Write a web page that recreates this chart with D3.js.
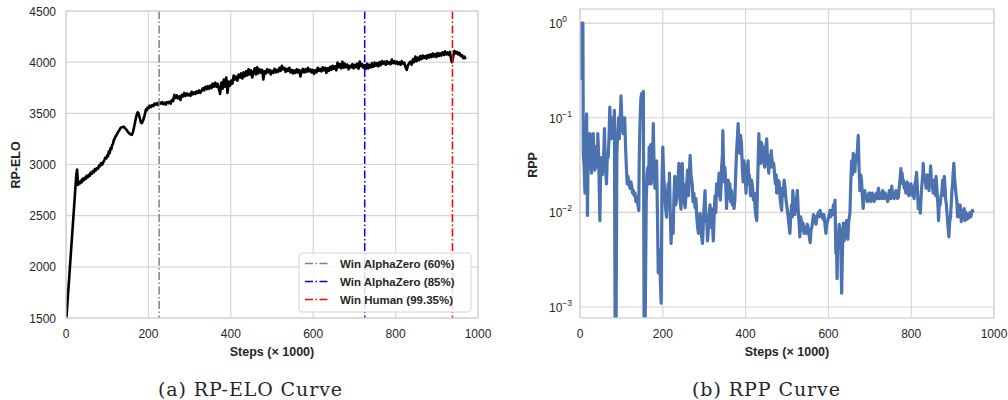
<!DOCTYPE html>
<html>
<head>
<meta charset="utf-8">
<script src="https://cdn.jsdelivr.net/npm/d3@7"></script>
<style>
  body { margin: 0; background: #fff; }
  svg text { fill: #262626; }
</style>
</head>
<body>
<svg id="chart" width="1008" height="400"></svg>
<script>
// ---- data ----
// RP-ELO curve: [step (x1000), elo]
const eloPoints = [
  [1,1500],[25,2900],[27,2950],[29,2800],[32,2830],[34,2815],[36,2840],[38,2825],[40,2860],[43,2845],
  [45,2870],[48,2860],[50,2890],[53,2875],[55,2900],[58,2890],[60,2920],[63,2910],[65,2935],[68,2925],
  [70,2955],[73,2945],[75,2965],[78,2960],[80,2990],[83,2985],[85,3015],[88,3000],[90,3020],[93,3040],
  [95,3065],[98,3060],[100,3090],[102,3080],[104,3130],[106,3110],[108,3160],[110,3150],[112,3190],[114,3200],
  [116,3240],[118,3250],[120,3275],[122,3280],[124,3300],[126,3315],[128,3325],[130,3340],[133,3360],[136,3365],
  [140,3370],[143,3355],[146,3345],[150,3320],[153,3305],[156,3295],[160,3290],[162,3310],[164,3340],[166,3380],
  [168,3420],[170,3460],[172,3490],[174,3510],[176,3500],[178,3470],[180,3440],[182,3410],[184,3405],[186,3420],
  [188,3440],[190,3470],[192,3500],[194,3540],[196,3530],[198,3555],[200,3550],[203,3575],[206,3560],[209,3580],
  [212,3570],[215,3595],[218,3585],[221,3600],[224,3580],[227,3605],[230,3595],[233,3610],[236,3590],[239,3605],
  [242,3585],[245,3610],[248,3600],[251,3615],[254,3595],[257,3630],[260,3620],[263,3680],[266,3650],[269,3675],
  [272,3645],[275,3665],[278,3630],[281,3680],[284,3665],[287,3700],[290,3670],[293,3695],[296,3675],[299,3690],
  [302,3670],[305,3710],[308,3685],[311,3705],[314,3690],[317,3715],[320,3700],[323,3725],[326,3700],[329,3720],
  [332,3745],[335,3725],[338,3760],[341,3735],[344,3765],[347,3740],[350,3770],[353,3745],[356,3790],[359,3760],
  [362,3800],[365,3760],[368,3790],[371,3740],[374,3690],[377,3800],[380,3740],[383,3830],[386,3760],[389,3850],
  [392,3700],[395,3810],[398,3770],[401,3820],[404,3790],[407,3870],[410,3830],[413,3860],[416,3820],[419,3880],
  [422,3850],[425,3890],[428,3840],[431,3900],[434,3860],[437,3910],[440,3870],[443,3930],[446,3880],[449,3920],
  [452,3850],[455,3900],[458,3940],[461,3880],[464,3950],[467,3890],[470,3930],[473,3900],[476,3925],[479,3830],
  [482,3910],[485,3890],[488,3930],[491,3900],[494,3925],[497,3880],[500,3915],[503,3895],[506,3935],[509,3900],
  [512,3925],[515,3905],[518,3945],[521,3915],[524,3965],[527,3930],[530,3945],[533,3905],[536,3935],[539,3915],
  [542,3945],[545,3900],[548,3925],[551,3890],[554,3920],[557,3895],[560,3930],[563,3900],[566,3925],[569,3860],
  [572,3910],[575,3935],[578,3900],[581,3930],[584,3905],[587,3945],[590,3910],[593,3930],[596,3900],[599,3925],
  [602,3885],[605,3920],[608,3900],[611,3945],[614,3915],[617,3935],[620,3910],[623,3950],[626,3920],[629,3945],
  [632,3895],[635,3940],[638,3915],[641,3955],[644,3925],[647,3965],[650,3935],[653,3960],[656,3920],[659,3995],
  [662,3950],[665,3980],[668,3940],[671,4005],[674,3945],[677,3985],[680,3950],[683,3975],[686,3930],[689,3965],
  [692,3950],[695,3980],[698,3940],[701,3975],[704,3950],[707,3985],[710,3935],[713,4005],[716,3960],[719,3980],
  [722,3945],[725,3970],[728,3935],[731,3985],[734,3940],[737,3975],[740,3950],[743,3990],[746,3955],[749,3995],
  [752,3965],[755,3990],[758,3960],[761,4000],[764,3970],[767,4010],[770,3985],[773,4005],[776,3975],[779,4010],
  [782,3985],[785,4000],[788,3980],[791,4025],[794,3990],[797,4010],[800,3985],[803,4005],[806,3980],[809,4000],
  [812,3975],[815,4010],[818,3985],[821,3995],[824,3950],[827,3925],[830,3970],[833,3990],[836,4005],[839,3975],
  [842,4030],[845,4000],[848,4055],[851,4010],[854,4045],[857,4020],[860,4060],[863,4030],[866,4065],[869,4040],
  [872,4060],[875,4035],[878,4070],[881,4045],[884,4075],[887,4050],[890,4085],[893,4055],[896,4080],[899,4050],
  [902,4090],[905,4060],[908,4085],[911,4065],[914,4095],[917,4070],[920,4105],[923,4075],[926,4095],[929,4070],
  [932,4100],[935,4020],[937,4000],[940,4060],[943,4110],[946,4085],[949,4100],[952,4075],[955,4090],[958,4060],
  [961,4070],[964,4040],[967,4055],[970,4030]
];

// milestone lines
const milestones = [
  { step: 226, label: "Win AlphaZero (60%)", color: "#808080" },
  { step: 725, label: "Win AlphaZero (85%)", color: "#0000ff" },
  { step: 938, label: "Win Human (99.35%)", color: "#ff0000" }
];

// RPP curve: [step (x1000), rpp]
const rppPoints = [
  [2,0.25],[3,1.0],[5,0.8],[7,1.0],[8,0.042],[10,0.03],[12,0.016],[14,0.05],[16,0.11],[17,0.04],
  [18,0.0093],[20,0.05],[21,0.03],[23,0.06],[24,0.068],[26,0.035],[28,0.026],[30,0.05],[32,0.068],[34,0.03],
  [36,0.028],[38,0.045],[40,0.05],[42,0.03],[43,0.068],[45,0.04],[48,0.0082],[50,0.03],[52,0.038],[54,0.025],
  [56,0.03],[58,0.05],[59,0.077],[61,0.035],[64,0.02],[66,0.04],[68,0.038],[70,0.06],[72,0.13],[74,0.07],
  [76,0.06],[78,0.1],[80,0.09],[82,0.06],[83,0.12],[85,0.0004],[87,0.0004],[89,0.04],[91,0.07],[93,0.1],
  [95,0.06],[96,0.08],[98,0.12],[99,0.17],[101,0.1],[104,0.068],[106,0.09],[108,0.1],[110,0.05],[112,0.03],
  [114,0.02],[116,0.024],[118,0.02],[121,0.018],[123,0.021],[125,0.019],[127,0.016],[129,0.017],[131,0.015],[133,0.016],
  [135,0.013],[137,0.0145],[140,0.012],[142,0.0105],[143,0.035],[145,0.09],[147,0.16],[149,0.18],[151,0.12],[153,0.19],
  [155,0.0004],[157,0.0004],[160,0.0135],[162,0.025],[164,0.03],[166,0.02],[167,0.049],[169,0.03],[171,0.052],[172,0.02],
  [174,0.03],[176,0.05],[177,0.087],[179,0.03],[181,0.018],[183,0.03],[185,0.035],[187,0.01],[189,0.0023],[192,0.004],
  [194,0.002],[196,0.0011],[198,0.02],[200,0.049],[202,0.025],[204,0.018],[206,0.012],[209,0.0089],[211,0.015],[213,0.02],
  [215,0.012],[216,0.026],[218,0.01],[220,0.0047],[222,0.009],[225,0.006],[227,0.015],[229,0.024],[231,0.012],[233,0.0135],
  [236,0.02],[239,0.033],[241,0.015],[244,0.0108],[246,0.02],[247,0.033],[249,0.015],[250,0.02],[252,0.013],[254,0.0112],
  [257,0.018],[260,0.028],[262,0.015],[264,0.025],[266,0.04],[268,0.025],[271,0.02],[273,0.013],[275,0.016],[278,0.0112],
  [280,0.014],[282,0.009],[284,0.007],[286,0.006],[288,0.008],[290,0.0098],[293,0.006],[296,0.0047],[299,0.01],[302,0.017],
  [304,0.008],[306,0.009],[308,0.005],[310,0.0065],[312,0.01],[314,0.012],[316,0.007],[318,0.011],[320,0.0075],[322,0.005],
  [324,0.009],[326,0.015],[328,0.01],[330,0.02],[333,0.015],[336,0.026],[338,0.018],[339,0.0135],[341,0.02],[342,0.03],
  [344,0.04],[345,0.073],[347,0.03],[348,0.021],[350,0.03],[351,0.025],[353,0.015],[354,0.011],[356,0.018],[358,0.022],
  [360,0.014],[362,0.02],[364,0.013],[366,0.017],[368,0.012],[370,0.015],[372,0.011],[374,0.0135],[376,0.025],[378,0.042],
  [380,0.06],[382,0.087],[384,0.05],[386,0.042],[388,0.065],[390,0.054],[392,0.03],[394,0.021],[396,0.035],[398,0.03],
  [400,0.02],[401,0.016],[403,0.025],[406,0.035],[408,0.02],[409,0.025],[411,0.018],[412,0.015],[414,0.022],[416,0.02],
  [418,0.015],[419,0.0135],[421,0.016],[423,0.011],[425,0.009],[427,0.0082],[429,0.02],[432,0.068],[434,0.04],[436,0.033],
  [438,0.055],[441,0.049],[443,0.035],[446,0.03],[448,0.045],[451,0.06],[453,0.035],[456,0.026],[458,0.04],[460,0.03],
  [462,0.045],[463,0.038],[466,0.03],[468,0.033],[470,0.025],[472,0.02],[474,0.025],[475,0.016],[478,0.022],[481,0.021],
  [484,0.013],[487,0.0105],[489,0.018],[491,0.015],[493,0.022],[495,0.019],[498,0.013],[501,0.0105],[504,0.008],[507,0.006],
  [509,0.009],[511,0.012],[513,0.009],[514,0.017],[517,0.011],[519,0.0095],[522,0.013],[525,0.017],[527,0.011],[528,0.009],
  [530,0.007],[531,0.0055],[533,0.009],[535,0.008],[537,0.0065],[539,0.0077],[541,0.006],[543,0.007],[545,0.0065],[547,0.006],
  [549,0.0075],[552,0.0065],[554,0.0055],[556,0.0048],[558,0.0065],[560,0.007],[562,0.008],[564,0.0095],[566,0.0085],[568,0.009],
  [570,0.0075],[572,0.0088],[574,0.0095],[576,0.01],[578,0.009],[580,0.0105],[582,0.009],[585,0.0095],[587,0.0085],[589,0.0095],
  [591,0.008],[594,0.006],[596,0.0075],[598,0.008],[600,0.0088],[602,0.0095],[604,0.0105],[606,0.009],[608,0.0105],[610,0.0095],
  [612,0.012],[614,0.011],[616,0.0135],[618,0.0037],[619,0.006],[621,0.002],[622,0.004],[624,0.005],[626,0.0075],[628,0.0065],
  [630,0.004],[632,0.0014],[634,0.004],[636,0.0077],[638,0.005],[640,0.0058],[642,0.0075],[644,0.0082],[646,0.006],[647,0.0052],
  [649,0.008],[652,0.0098],[654,0.02],[656,0.035],[658,0.025],[660,0.042],[662,0.03],[664,0.027],[666,0.04],[668,0.035],
  [670,0.045],[672,0.065],[674,0.03],[676,0.017],[678,0.025],[680,0.022],[682,0.015],[684,0.011],[686,0.015],[688,0.017],
  [690,0.014],[692,0.015],[694,0.013],[696,0.0145],[698,0.016],[700,0.016],[702,0.013],[704,0.014],[706,0.016],[708,0.015],
  [710,0.013],[712,0.0135],[714,0.015],[716,0.016],[718,0.014],[721,0.018],[723,0.014],[725,0.015],[727,0.016],[729,0.014],
  [731,0.017],[733,0.016],[735,0.014],[737,0.016],[739,0.015],[741,0.015],[743,0.013],[745,0.014],[747,0.017],[749,0.016],
  [751,0.014],[753,0.019],[755,0.015],[757,0.016],[759,0.014],[761,0.0145],[763,0.017],[765,0.016],[767,0.014],[769,0.0145],
  [771,0.018],[772,0.02],[774,0.025],[775,0.029],[777,0.022],[778,0.026],[780,0.02],[781,0.022],[783,0.018],[785,0.02],
  [787,0.016],[788,0.018],[790,0.021],[792,0.019],[794,0.015],[797,0.016],[799,0.02],[801,0.019],[803,0.015],[805,0.017],
  [807,0.014],[809,0.02],[811,0.022],[813,0.0265],[815,0.018],[817,0.011],[819,0.014],[822,0.0098],[824,0.015],[826,0.02],
  [828,0.025],[829,0.033],[831,0.022],[833,0.024],[835,0.02],[836,0.018],[838,0.025],[841,0.022],[843,0.017],[844,0.02],
  [846,0.026],[847,0.031],[849,0.02],[850,0.022],[852,0.018],[853,0.016],[855,0.022],[857,0.02],[859,0.015],[860,0.024],
  [862,0.018],[863,0.015],[865,0.011],[866,0.0082],[868,0.013],[870,0.012],[872,0.015],[874,0.016],[876,0.022],[877,0.02],
  [879,0.015],[880,0.024],[882,0.018],[883,0.014],[885,0.012],[886,0.0105],[888,0.008],[891,0.0055],[893,0.008],[895,0.009],
  [897,0.013],[898,0.016],[900,0.02],[901,0.025],[903,0.033],[905,0.022],[906,0.02],[908,0.016],[910,0.0135],[912,0.009],
  [913,0.012],[915,0.01],[916,0.009],[918,0.012],[919,0.011],[921,0.008],[922,0.0105],[924,0.0085],[926,0.009],[928,0.011],
  [930,0.0082],[932,0.01],[934,0.0095],[936,0.0085],[938,0.0095],[940,0.0088],[942,0.01],[944,0.009],[946,0.0098],[948,0.0105],
  [950,0.01]
];

const xTicks = [0, 200, 400, 600, 800, 1000];
const eloTicks = [1500, 2000, 2500, 3000, 3500, 4000, 4500];
const rppTicks = [1, 0.1, 0.01, 0.001];
const rppExp = ["0", "\u22121", "\u22122", "\u22123"];

const svg = d3.select("#chart");
const gridColor = "#d5d5d5";
const sans = "'Liberation Sans', Arial, sans-serif";

function frame(x, y, id) {
  // clip for the plot area
  svg.append("clipPath").attr("id", id)
    .append("rect")
    .attr("x", x.range()[0]).attr("y", y.range()[1])
    .attr("width", x.range()[1] - x.range()[0])
    .attr("height", y.range()[0] - y.range()[1]);
}

function grid(g, x, y, yTickVals) {
  const [x0, x1] = x.range();
  const [y0, y1] = y.range();
  g.selectAll(".vg").data(xTicks).join("line")
    .attr("x1", d => x(d)).attr("x2", d => x(d))
    .attr("y1", y0).attr("y2", y1)
    .attr("stroke", gridColor).attr("stroke-width", 1.1);
  g.selectAll(".hg").data(yTickVals).join("line")
    .attr("x1", x0).attr("x2", x1)
    .attr("y1", d => y(d)).attr("y2", d => y(d))
    .attr("stroke", gridColor).attr("stroke-width", 1.1);
}

function border(g, x, y) {
  const [x0, x1] = x.range();
  const [y0, y1] = y.range();
  g.append("rect")
    .attr("x", x0).attr("y", y1)
    .attr("width", x1 - x0).attr("height", y0 - y1)
    .attr("fill", "none").attr("stroke", gridColor).attr("stroke-width", 1.3);
}

function xAxisLabels(g, x, y) {
  const y0 = y.range()[0];
  g.selectAll(".xt").data(xTicks).join("text")
    .attr("x", d => x(d)).attr("y", y0 + 20)
    .attr("text-anchor", "middle")
    .style("font-family", sans).style("font-size", "12px")
    .text(d => d);
  g.append("text")
    .attr("x", (x.range()[0] + x.range()[1]) / 2).attr("y", y0 + 38)
    .attr("text-anchor", "middle")
    .style("font-family", sans).style("font-size", "12.5px").style("font-weight", "bold")
    .text("Steps (\u00d7 1000)");
}

// ---------- (a) RP-ELO ----------
const xA = d3.scaleLinear().domain([0, 1000]).range([66, 478]);
const yA = d3.scaleLinear().domain([1500, 4500]).range([318, 11]);
const gA = svg.append("g");
frame(xA, yA, "clipA");
grid(gA, xA, yA, eloTicks);

gA.selectAll(".yt").data(eloTicks).join("text")
  .attr("x", 56).attr("y", d => yA(d) + 4.5)
  .attr("text-anchor", "end")
  .style("font-family", sans).style("font-size", "12px")
  .text(d => d);
gA.append("text")
  .attr("transform", "translate(20,165) rotate(-90)")
  .attr("text-anchor", "middle")
  .style("font-family", sans).style("font-size", "12.5px").style("font-weight", "bold")
  .text("RP-ELO");
xAxisLabels(gA, xA, yA);

const eloLine = d3.line().x(d => xA(d[0])).y(d => yA(d[1]));
gA.append("path").datum(eloPoints)
  .attr("clip-path", "url(#clipA)")
  .attr("d", eloLine)
  .attr("fill", "none").attr("stroke", "#000").attr("stroke-width", 2.6)
  .attr("stroke-linejoin", "round");

gA.selectAll(".ms").data(milestones).join("line")
  .attr("x1", d => xA(d.step)).attr("x2", d => xA(d.step))
  .attr("y1", yA.range()[1]).attr("y2", yA.range()[0])
  .attr("stroke", d => d.color).attr("stroke-width", 1.5)
  .attr("stroke-dasharray", "8,2.5,1.5,2.5");

border(gA, xA, yA);

// legend
const leg = gA.append("g").attr("transform", "translate(299,253)");
leg.append("rect").attr("width", 172).attr("height", 59).attr("rx", 3)
  .attr("fill", "#fff").attr("fill-opacity", 0.85)
  .attr("stroke", "#d5d5d5").attr("stroke-width", 1);
milestones.forEach((m, i) => {
  const yy = 10.5 + i * 18;
  leg.append("line").attr("x1", 6).attr("x2", 31).attr("y1", yy).attr("y2", yy)
    .attr("stroke", m.color).attr("stroke-width", 1.5)
    .attr("stroke-dasharray", "8,2.5,1.5,2.5");
  leg.append("text").attr("x", 41).attr("y", yy + 4)
    .style("font-family", sans).style("font-size", "11.5px").style("font-weight", "bold")
    .text(m.label);
});

// ---------- (b) RPP ----------
const xB = d3.scaleLinear().domain([0, 1000]).range([580, 994]);
const yB = d3.scaleLog().domain([7.66e-4, 1.41]).range([318, 9]);
const gB = svg.append("g");
frame(xB, yB, "clipB");
grid(gB, xB, yB, rppTicks);

rppTicks.forEach((t, i) => {
  const tx = gB.append("text")
    .attr("x", 549).attr("y", yB(t) + 5)
    .style("font-family", sans).style("font-size", "12px");
  tx.append("tspan").text("10");
  tx.append("tspan").attr("dy", -6).style("font-size", "8.5px").text(rppExp[i]);
});
gB.append("text")
  .attr("transform", "translate(537,165) rotate(-90)")
  .attr("text-anchor", "middle")
  .style("font-family", sans).style("font-size", "12.5px").style("font-weight", "bold")
  .text("RPP");
xAxisLabels(gB, xB, yB);

const rppLine = d3.line().x(d => xB(d[0])).y(d => yB(d[1]));
gB.append("path").datum(rppPoints)
  .attr("clip-path", "url(#clipB)")
  .attr("d", rppLine)
  .attr("fill", "none").attr("stroke", "#4c72b0").attr("stroke-width", 3.2)
  .attr("stroke-linejoin", "round");

border(gB, xB, yB);

// captions
const serif = "'DejaVu Serif', 'Liberation Serif', serif";
svg.append("text").attr("x", 250).attr("y", 396).attr("text-anchor", "middle")
  .attr("textLength", 184).attr("lengthAdjust", "spacing")
  .style("font-family", serif).style("font-size", "19px").text("(a) RP-ELO Curve");
svg.append("text").attr("x", 766).attr("y", 396).attr("text-anchor", "middle")
  .attr("textLength", 148).attr("lengthAdjust", "spacing")
  .style("font-family", serif).style("font-size", "19px").text("(b) RPP Curve");
</script>
</body>
</html>
